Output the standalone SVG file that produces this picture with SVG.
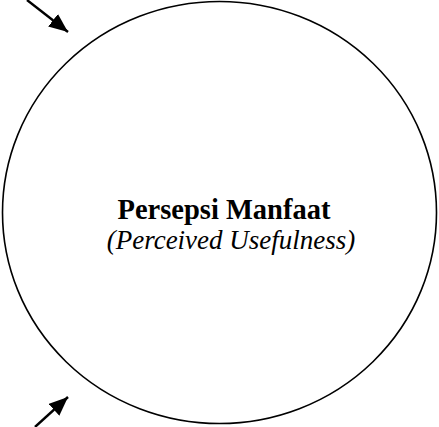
<svg xmlns="http://www.w3.org/2000/svg" width="439" height="427" viewBox="0 0 439 427">
  <style>
    .node-shape { fill: #ffffff; stroke: #000000; stroke-width: 1.6; }
    .title { font-family: "Liberation Serif", "Times New Roman", serif; font-weight: bold; font-size: 28.5px; fill: #000; }
    .subtitle { font-family: "Liberation Serif", "Times New Roman", serif; font-style: italic; font-size: 27px; fill: #000; }
    .connector { stroke: #000; stroke-width: 2.4; fill: none; }
  </style>
  <defs>
    <marker id="arrow" markerUnits="userSpaceOnUse" markerWidth="19" markerHeight="16" refX="19" refY="8" orient="auto">
      <path d="M0,0 L19,8 L0,16 z" fill="#000"/>
    </marker>
  </defs>
  <rect width="439" height="427" fill="#ffffff"/>
  <g id="node-persepsi-manfaat">
    <ellipse class="node-shape" cx="219.5" cy="212.5" rx="217" ry="211"/>
    <text class="title" x="224" y="219" text-anchor="middle">Persepsi Manfaat</text>
    <text class="subtitle" x="231" y="249" text-anchor="middle">(Perceived Usefulness)</text>
  </g>
  <g id="connectors">
    <line class="connector" x1="27" y1="0" x2="68" y2="32" marker-end="url(#arrow)"/>
    <line class="connector" x1="35" y1="427" x2="68" y2="397" marker-end="url(#arrow)"/>
  </g>
</svg>
